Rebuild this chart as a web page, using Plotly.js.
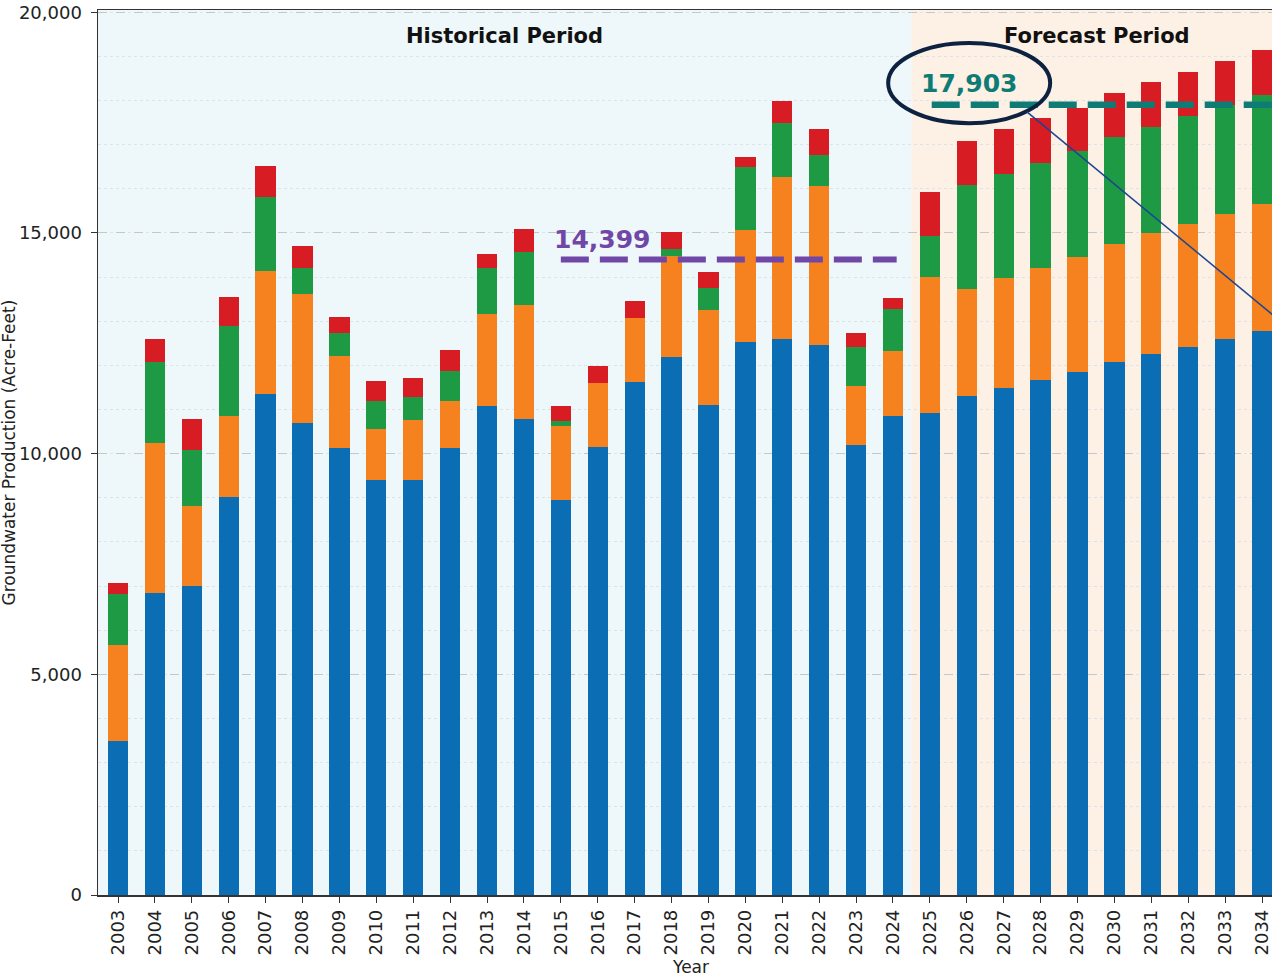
<!DOCTYPE html>
<html>
<head>
<meta charset="utf-8">
<script src="https://cdn.plot.ly/plotly-3.0.1.min.js"></script>
<style>
html,body{margin:0;padding:0;overflow:hidden;background:#fff;}
#chart{width:1300px;height:977px;}
</style>
</head>
<body>
<div id="chart"></div>
<script>
const years = [2003,2004,2005,2006,2007,2008,2009,2010,2011,2012,2013,2014,2015,2016,2017,2018,2019,2020,2021,2022,2023,2024,2025,2026,2027,2028,2029,2030,2031,2032,2033,2034];
const seriesBlue   = [3500,6850,6990,9026,11352,10691,10119,9396,9396,10136,11088,10781,8950,10140,11627,12193,11106,12518,12593,12465,10186,10856,10910,11309,11484,11665,11853,12072,12254,12419,12593,12775];
const seriesOrange = [2160,3392,1815,1833,2785,2926,2088,1154,1375,1049,2079,2583,1680,1464,1435,2273,2137,2544,3663,3601,1350,1473,3095,2424,2498,2537,2605,2680,2734,2786,2838,2876];
const seriesGreen  = [1170,1833,1277,2035,1674,590,520,644,511,687,1040,1207,106,0,0,166,513,1427,1223,695,869,951,921,2355,2356,2378,2400,2432,2407,2439,2478,2469];
const seriesRed    = [240,520,705,643,696,493,379,458,440,476,326,507,347,385,392,385,362,242,505,589,317,249,990,990,1012,1026,983,988,1019,997,981,1019];
const seriesNames  = ["Blue component","Orange component","Green component","Red component"];
const seriesColors = ["#0b6eb4","#f5821f","#1e9a45","#d71c24"];
const histAvg = 14399, histAvgLabel = "14,399";
const foreAvg = 17903, foreAvgLabel = "17,903";
const yTicks = [0,5000,10000,15000,20000];

const allSeries = [seriesBlue, seriesOrange, seriesGreen, seriesRed];
const traces = allSeries.map((vals, i) => ({
  type: 'bar', x: years, y: vals, name: seriesNames[i],
  marker: {color: seriesColors[i], line: {width: 0}},
  width: 0.55, showlegend: false, hoverinfo: 'x+y+name'
}));

const xmin = 2002.458, xmax = 2034.542, split = 2024.5;
const font = "DejaVu Sans, sans-serif";

const layout = {
  width: 1300, height: 977,
  margin: {l: 98, r: 18, t: 10, b: 82},
  paper_bgcolor: '#ffffff', plot_bgcolor: 'rgba(0,0,0,0)',
  barmode: 'stack', bargap: 0,
  font: {family: font, color: '#222', size: 16},
  xaxis: {
    range: [xmin, xmax], tickvals: years, ticktext: years.map(String),
    tickangle: -90, ticks: 'outside', ticklen: 6, tickcolor: '#333',
    showline: true, linecolor: '#333', linewidth: 1.5, mirror: true,
    showgrid: false, zeroline: false, tickfont: {size: 18, family: font, color: '#222'}
  },
  yaxis: {
    range: [0, 20050], tickvals: yTicks, tickformat: ',d',
    ticks: 'outside', ticklen: 6, tickcolor: '#333', ticklabelstandoff: 5,
    showline: true, linecolor: '#333', linewidth: 1.5, mirror: true,
    showgrid: true, gridcolor: '#c4c8ca', griddash: 'dash', gridwidth: 1,
    minor: {dtick: 1000, showgrid: true, gridcolor: '#dde3e6', griddash: 'dot', gridwidth: 1},
    zeroline: false, tickfont: {size: 18, family: font, color: '#222'}
  },
  shapes: [
    {type: 'rect', layer: 'below', xref: 'x', yref: 'paper', x0: xmin, x1: split, y0: 0, y1: 1, fillcolor: '#eef7fa', line: {width: 0}},
    {type: 'rect', layer: 'below', xref: 'x', yref: 'paper', x0: split, x1: xmax, y0: 0, y1: 1, fillcolor: '#fdf0e5', line: {width: 0}},
    {type: 'line', xref: 'x', yref: 'y', x0: 2015, x1: 2024.1, y0: histAvg, y1: histAvg, line: {color: '#7046a6', width: 6, dash: '28px,11px'}},
    {type: 'line', xref: 'x', yref: 'y', x0: 2025.05, x1: xmax, y0: foreAvg, y1: foreAvg, line: {color: '#0e7c74', width: 6.5, dash: '28px,11px'}},
    {type: 'circle', xref: 'x', yref: 'y', x0: 2023.87, x1: 2028.26, y0: 17486, y1: 19305, line: {color: '#0d2240', width: 4}},
    {type: 'line', xref: 'x', yref: 'y', x0: 2027.63, y0: 17742, x1: xmax, y1: 12972, line: {color: '#1a4690', width: 1.5}}
  ],
  annotations: [
    {xref: 'x', yref: 'paper', x: (xmin + split) / 2, y: 1, yshift: -26, text: '<b>Historical Period</b>', showarrow: false, font: {size: 21, color: '#111', family: font}, xanchor: 'center', yanchor: 'middle'},
    {xref: 'x', yref: 'paper', x: (split + xmax) / 2, y: 1, yshift: -26, text: '<b>Forecast Period</b>', showarrow: false, font: {size: 21, color: '#111', family: font}, xanchor: 'center', yanchor: 'middle'},
    {xref: 'x', yref: 'y', x: 2014.75, y: histAvg, yshift: 20, text: '<b>' + histAvgLabel + '</b>', showarrow: false, font: {size: 25, color: '#7046a6', family: font}, xanchor: 'left', yanchor: 'middle'},
    {xref: 'x', yref: 'y', x: 2026.05, y: foreAvg, yshift: 21, text: '<b>' + foreAvgLabel + '</b>', showarrow: false, font: {size: 25, color: '#0e7c74', family: font}, xanchor: 'center', yanchor: 'middle'},
    {xref: 'paper', yref: 'paper', x: 0, y: 0.5, xshift: -90, text: 'Groundwater Production (Acre-Feet)', textangle: -90, showarrow: false, font: {size: 17, color: '#222', family: font}, xanchor: 'center', yanchor: 'middle'},
    {xref: 'paper', yref: 'paper', x: 0.5, y: 0, yshift: -72, text: 'Year', showarrow: false, font: {size: 17, color: '#222', family: font}, xanchor: 'center', yanchor: 'middle'}
  ]
};

Plotly.newPlot('chart', traces, layout, {displayModeBar: false, staticPlot: true});
</script>
</body>
</html>
